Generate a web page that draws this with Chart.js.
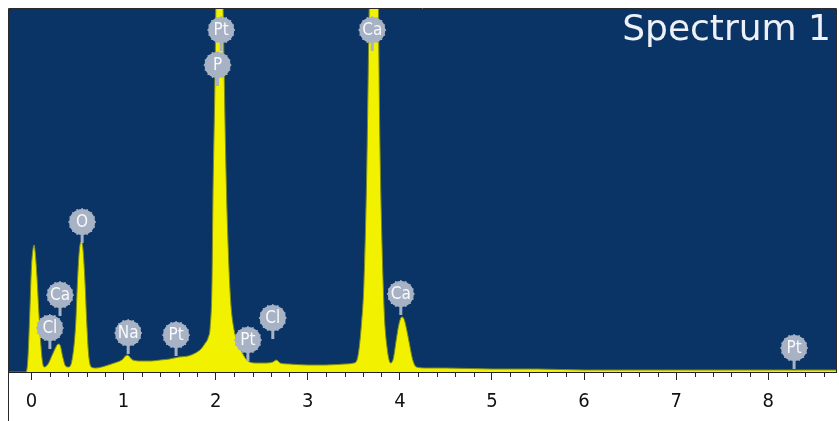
<!DOCTYPE html>
<html>
<head>
<meta charset="utf-8">
<script src="https://cdn.jsdelivr.net/npm/chart.js@4.4.1/dist/chart.umd.min.js"></script>
<style>
  html, body { margin: 0; padding: 0; background: #ffffff; }
  #wrap { width: 839px; height: 421px; }
</style>
</head>
<body>
<div id="wrap"><canvas id="c" width="839" height="421"></canvas></div>
<script>
// ---- Data (energy in keV, counts in arbitrary units) ----
const energies = [
  -0.24, -0.06, -0.04, -0.02, 0.00, 0.02, 0.03, 0.04, 0.06, 0.08, 0.10, 0.12, 0.14,
  0.18, 0.22, 0.26, 0.29, 0.31, 0.34, 0.37, 0.40, 0.44, 0.48, 0.50, 0.52, 0.54, 0.55,
  0.56, 0.58, 0.60, 0.62, 0.65, 0.70, 0.80, 0.90, 0.98, 1.04, 1.10, 1.20, 1.30,
  1.40, 1.50, 1.60, 1.70, 1.78, 1.84, 1.88, 1.92, 1.94, 1.96, 1.97, 1.99, 2.01, 2.03,
  2.05, 2.07, 2.09, 2.11, 2.13, 2.16, 2.20, 2.24, 2.29, 2.35, 2.45, 2.55, 2.62,
  2.66, 2.70, 2.80, 3.00, 3.20, 3.40, 3.50, 3.54, 3.58, 3.61, 3.64, 3.67, 3.70,
  3.73, 3.76, 3.78, 3.80, 3.83, 3.86, 3.90, 3.93, 3.96, 3.99, 4.02, 4.04, 4.07,
  4.10, 4.14, 4.18, 4.30, 4.50, 5.00, 5.50, 6.00, 7.00, 8.00, 8.74
];
const counts = [
  0, 0, 12, 55, 105, 125, 127, 120, 95, 60, 30, 10, 5,
  8, 16, 24, 28, 27, 15, 6, 5, 12, 48, 92, 122, 130, 129,
  122, 92, 50, 18, 5, 4, 6, 9, 12, 17, 12, 11, 11,
  12, 13, 15, 16, 19, 23, 28, 35, 45, 90, 172, 280, 420, 460,
  470, 420, 310, 210, 140, 75, 42, 30, 19, 11, 9, 9, 10,
  12, 9, 8, 7, 7, 8, 9, 14, 45, 90, 200, 380, 460,
  470, 420, 250, 150, 60, 25, 9, 14, 32, 48, 55, 54, 44,
  30, 12, 5, 4, 4, 3, 3, 2, 2, 2, 2
];
const tickValues = [0, 1, 2, 3, 4, 5, 6, 7, 8];
const minorStep = 0.2;
const xMin = -0.244, xMax = 8.735;
const yMax = 363;

// Element markers
const markerNames    = ['Pt', 'P', 'Ca', 'O', 'Ca', 'Cl', 'Na', 'Pt', 'Pt', 'Cl', 'Ca', 'Pt'];
const markerEnergies = [2.06, 2.02, 3.70, 0.55, 0.31, 0.20, 1.05, 1.57, 2.35, 2.62, 4.01, 8.28];
const markerHeights  = [342, 307, 342, 150, 77, 44, 39, 37, 32, 54, 78, 24];

const spectrumTitle = 'Spectrum 1';

const BLUE = '#0a3466';

const decorPlugin = {
  id: 'decor',
  beforeDraw(chart) {
    const ctx = chart.ctx, a = chart.chartArea;
    ctx.save();
    ctx.fillStyle = '#ffffff';
    ctx.fillRect(0, 0, chart.width, chart.height);
    ctx.fillStyle = BLUE;
    ctx.fillRect(a.left, a.top, a.right - a.left, a.bottom - a.top);
    ctx.restore();
  },
  afterDraw(chart) {
    const ctx = chart.ctx, a = chart.chartArea;
    const xs = chart.scales.x, ys = chart.scales.y;
    ctx.save();
    // frame lines
    ctx.strokeStyle = '#2a2a2a';
    ctx.lineWidth = 1;
    ctx.beginPath();
    ctx.moveTo(a.left - 0.5, chart.height);
    ctx.lineTo(a.left - 0.5, a.top - 0.5);
    ctx.lineTo(a.right + 0.5, a.top - 0.5);
    ctx.lineTo(a.right + 0.5, a.bottom);
    ctx.stroke();
    // minor ticks
    ctx.strokeStyle = '#222';
    ctx.beginPath();
    const n = Math.round((Math.floor(xMax) + 1 - Math.ceil(xMin)) / minorStep);
    for (let i = 0; i <= n; i++) {
      const v = Math.ceil(xMin) + i * minorStep;
      if (v < xMin || v > xMax) continue;
      if (Math.abs(v - Math.round(v)) < 1e-6) continue;
      const px = Math.round(xs.getPixelForValue(v)) + 0.5;
      ctx.moveTo(px, a.bottom);
      ctx.lineTo(px, a.bottom + 5);
    }
    ctx.stroke();

    // element markers
    ctx.beginPath();
    ctx.rect(a.left, a.top, a.right - a.left, a.bottom - a.top);
    ctx.clip();
    const r = 13;
    for (let i = 0; i < markerNames.length; i++) {
      const cx = xs.getPixelForValue(markerEnergies[i]);
      const cy = ys.getPixelForValue(markerHeights[i]);
      ctx.fillStyle = '#a7b2c5';
      ctx.fillRect(cx - 1.5, cy, 3, 21);
      ctx.beginPath();
      ctx.arc(cx, cy, r, 0, Math.PI * 2);
      ctx.fill();
      for (let k = 0; k < 16; k++) {
        const ang = k * Math.PI / 8;
        ctx.beginPath();
        ctx.arc(cx + Math.cos(ang) * r, cy + Math.sin(ang) * r, 0.9, 0, Math.PI * 2);
        ctx.fill();
      }
      ctx.fillStyle = '#f7f9fc';
      ctx.font = '17px "DejaVu Sans Condensed", "DejaVu Sans", sans-serif';
      ctx.textAlign = 'center';
      ctx.textBaseline = 'middle';
      ctx.fillText(markerNames[i], cx, cy + 0.5);
    }

    // title
    ctx.fillStyle = '#eef2f8';
    ctx.font = '36px "DejaVu Sans", sans-serif';
    ctx.textAlign = 'right';
    ctx.textBaseline = 'alphabetic';
    ctx.fillText(spectrumTitle, a.right - 5, a.top + 31);
    ctx.restore();
  }
};

new Chart(document.getElementById('c'), {
  type: 'line',
  data: {
    datasets: [{
      data: energies.map((e, i) => ({ x: e, y: counts[i] })),
      fill: 'origin',
      backgroundColor: '#f2f200',
      borderColor: '#7d8a1c',
      borderWidth: 1,
      pointRadius: 0,
      cubicInterpolationMode: 'monotone'
    }]
  },
  options: {
    responsive: false,
    animation: false,
    devicePixelRatio: 1,
    layout: { padding: { left: 9, right: 3, top: 9, bottom: 0 } },
    plugins: { legend: { display: false }, tooltip: { enabled: false } },
    scales: {
      x: {
        type: 'linear',
        min: xMin,
        max: xMax,
        afterBuildTicks(scale) { scale.ticks = tickValues.map(v => ({ value: v })); },
        afterFit(scale) { scale.height = 49; },
        grid: { drawOnChartArea: false, tickLength: 8, color: '#222', tickColor: '#222' },
        border: { display: true, color: '#222', width: 1 },
        ticks: {
          autoSkip: false, maxRotation: 0, padding: 10, color: '#111',
          font: { family: '"Liberation Sans Narrow", "DejaVu Sans Condensed", sans-serif', size: 20 },
          callback: v => String(v)
        }
      },
      y: { display: false, min: 0, max: yMax }
    }
  },
  plugins: [decorPlugin]
});
</script>
</body>
</html>
